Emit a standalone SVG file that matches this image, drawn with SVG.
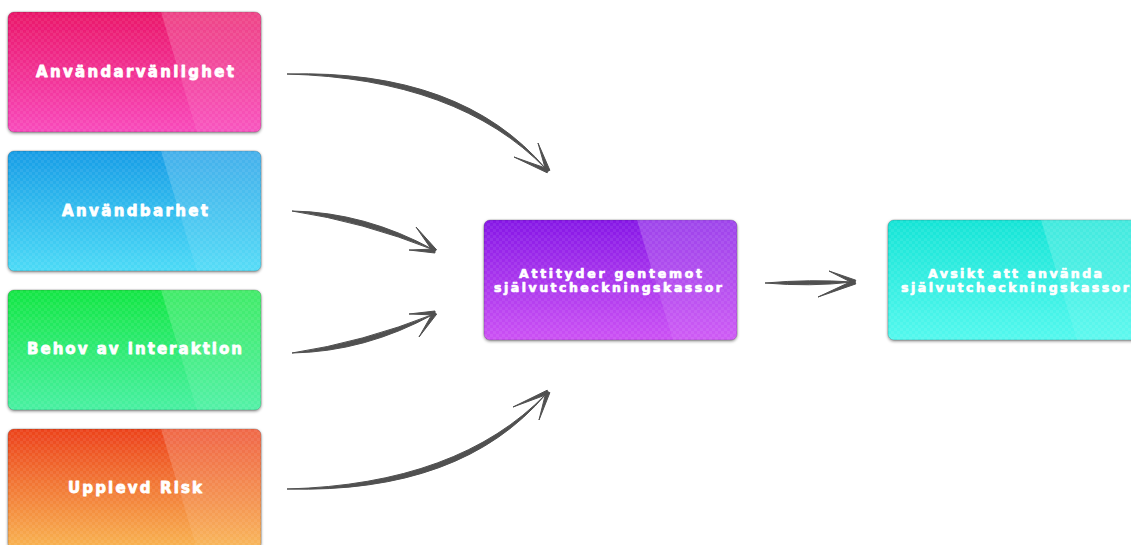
<svg xmlns="http://www.w3.org/2000/svg" width="1131" height="545" viewBox="0 0 1131 545">
  <style>
    .box { stroke: rgba(0,0,0,0.18); stroke-width: 1; filter: url(#sh); }
    .chk { fill: url(#chk); }
    .gloss { fill: url(#gGloss); }
    .t { font-family: "DejaVu Sans", "Liberation Sans", sans-serif; font-weight: bold; fill: #ffffff; stroke: #ffffff; stroke-width: 0.8; stroke-linejoin: round; text-anchor: middle; }
    .t1 { font-size: 15px; }
    .t2 { font-size: 12.5px; stroke-width: 0.7; }
    .arr { fill: #505050; stroke: #505050; stroke-width: 1; stroke-linejoin: round; }
  </style>
  <defs>
    <filter id="sh" x="-10%" y="-10%" width="120%" height="125%">
      <feDropShadow dx="0" dy="1.2" stdDeviation="1.4" flood-color="#000" flood-opacity="0.45"/>
    </filter>
    <pattern id="chk" patternUnits="userSpaceOnUse" width="6" height="6">
      <rect x="0" y="0" width="3" height="3" fill="#fff" fill-opacity="0.07"/>
      <rect x="3" y="3" width="3" height="3" fill="#fff" fill-opacity="0.07"/>
    </pattern>
    <clipPath id="clip" clipPathUnits="userSpaceOnUse">
      <rect x="0" y="0" width="253" height="120" rx="6"/>
    </clipPath>
    <linearGradient id="gGloss" x1="0" y1="0" x2="0" y2="1">
      <stop offset="0" stop-color="#fff" stop-opacity="0.2"/>
      <stop offset="1" stop-color="#fff" stop-opacity="0.06"/>
    </linearGradient>
    <linearGradient id="gPink" x1="0" y1="0" x2="0" y2="1">
      <stop offset="0" stop-color="#ea1769"/>
      <stop offset="1" stop-color="#f84abc"/>
    </linearGradient>
    <linearGradient id="gBlue" x1="0" y1="0" x2="0" y2="1">
      <stop offset="0" stop-color="#189de6"/>
      <stop offset="1" stop-color="#4cdaf6"/>
    </linearGradient>
    <linearGradient id="gGreen" x1="0" y1="0" x2="0" y2="1">
      <stop offset="0" stop-color="#14e644"/>
      <stop offset="1" stop-color="#48f0a2"/>
    </linearGradient>
    <linearGradient id="gOrange" x1="0" y1="0" x2="0" y2="1">
      <stop offset="0" stop-color="#ec421c"/>
      <stop offset="1" stop-color="#f8b452"/>
    </linearGradient>
    <linearGradient id="gPurple" x1="0" y1="0" x2="0" y2="1">
      <stop offset="0" stop-color="#8618e6"/>
      <stop offset="1" stop-color="#cc52f4"/>
    </linearGradient>
    <linearGradient id="gCyan" x1="0" y1="0" x2="0" y2="1">
      <stop offset="0" stop-color="#16e4d6"/>
      <stop offset="1" stop-color="#54f8ee"/>
    </linearGradient>
  </defs>

  <rect width="1131" height="545" fill="#ffffff"/>

  <g id="connectors">
    <!-- Användarvänlighet -> Attityder -->
    <path class="arr" d="M287,74 Q458.3,78.7 546,169 Q461.7,69.3 287,74 Z"/>
    <path class="arr" d="M549.9,170.3 L546.1,171.7 L538,143 Z"/>
    <path class="arr" d="M548.8,169.2 L547.2,172.8 L514,157 Z"/>
    <!-- Användbarhet -> Attityder -->
    <path class="arr" d="M292,211 Q362.7,221.8 434,250 Q365.3,212.2 292,211 Z"/>
    <path class="arr" d="M436.6,249.8 L433.4,252.2 L416,227 Z"/>
    <path class="arr" d="M435.1,249 L434.9,253 L409,250 Z"/>
    <!-- Behov av interaktion -> Attityder -->
    <path class="arr" d="M292,353 Q365.4,351.8 434,314 Q362.6,342.2 292,353 Z"/>
    <path class="arr" d="M435,311 L435,315 L409,314 Z"/>
    <path class="arr" d="M436.7,314.1 L433.3,311.9 L419,337 Z"/>
    <!-- Upplevd Risk -> Attityder -->
    <path class="arr" d="M287,489 Q461.7,493.7 546,394 Q458.3,484.3 287,489 Z"/>
    <path class="arr" d="M548.8,393.8 L547.2,390.2 L513,407 Z"/>
    <path class="arr" d="M549.9,392.6 L546.1,391.4 L539,420 Z"/>
    <!-- Attityder -> Avsikt -->
    <path class="arr" d="M765,283 Q810,279 853,282 Q810,287 765,283 Z"/>
    <path class="arr" d="M855.8,280.2 L854.2,283.8 L829,271 Z"/>
    <path class="arr" d="M855.8,283.9 L854.2,280.1 L818,297 Z"/>
  </g>

  <g id="node-anvandarvanlighet" transform="translate(8,12)">
    <rect class="box" width="253" height="120" rx="6" fill="url(#gPink)"/>
    <g clip-path="url(#clip)">
      <rect class="chk" width="253" height="120"/>
      <path class="gloss" d="M153,0 H253 V120 H189 Z"/>
    </g>
    <text class="t t1" x="127" y="65" textLength="198" lengthAdjust="spacing">Användarvänlighet</text>
  </g>

  <g id="node-anvandbarhet" transform="translate(8,151)">
    <rect class="box" width="253" height="120" rx="6" fill="url(#gBlue)"/>
    <g clip-path="url(#clip)">
      <rect class="chk" width="253" height="120"/>
      <path class="gloss" d="M153,0 H253 V120 H189 Z"/>
    </g>
    <text class="t t1" x="127" y="65" textLength="146" lengthAdjust="spacing">Användbarhet</text>
  </g>

  <g id="node-behov" transform="translate(8,290)">
    <rect class="box" width="253" height="120" rx="6" fill="url(#gGreen)"/>
    <g clip-path="url(#clip)">
      <rect class="chk" width="253" height="120"/>
      <path class="gloss" d="M153,0 H253 V120 H189 Z"/>
    </g>
    <text class="t t1" x="126.5" y="64" textLength="215" lengthAdjust="spacing">Behov av interaktion</text>
  </g>

  <g id="node-upplevd-risk" transform="translate(8,429)">
    <rect class="box" width="253" height="120" rx="6" fill="url(#gOrange)"/>
    <g clip-path="url(#clip)">
      <rect class="chk" width="253" height="120"/>
      <path class="gloss" d="M153,0 H253 V120 H189 Z"/>
    </g>
    <text class="t t1" x="127" y="64" textLength="134" lengthAdjust="spacing">Upplevd Risk</text>
  </g>

  <g id="node-attityder" transform="translate(484,220)">
    <rect class="box" width="253" height="120" rx="6" fill="url(#gPurple)"/>
    <g clip-path="url(#clip)">
      <rect class="chk" width="253" height="120"/>
      <path class="gloss" d="M153,0 H253 V120 H189 Z"/>
    </g>
    <text class="t t2" x="126.5" y="58" textLength="183" lengthAdjust="spacing">Attityder gentemot</text>
    <text class="t t2" x="124" y="72" textLength="228" lengthAdjust="spacing">självutcheckningskassor</text>
  </g>

  <g id="node-avsikt" transform="translate(888,220)">
    <rect class="box" width="253" height="120" rx="6" fill="url(#gCyan)"/>
    <g clip-path="url(#clip)">
      <rect class="chk" width="253" height="120"/>
      <path class="gloss" d="M153,0 H253 V120 H189 Z"/>
    </g>
    <text class="t t2" x="127" y="58" textLength="174" lengthAdjust="spacing">Avsikt att använda</text>
    <text class="t t2" x="127" y="72" textLength="228" lengthAdjust="spacing">självutcheckningskassor</text>
  </g>
</svg>
